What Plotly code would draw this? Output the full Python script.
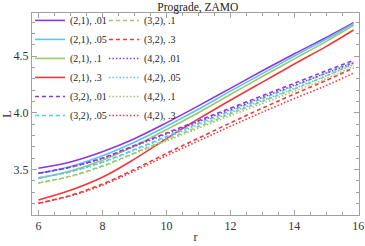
import plotly.graph_objects as go

r = [6, 7, 8, 9, 10, 11, 12, 13, 14, 15, 15.85]

# (2,1) solid
L21_01 = [3.51, 3.565, 3.655, 3.77, 3.91, 4.06, 4.215, 4.37, 4.52, 4.665, 4.795]
L21_05 = [3.465, 3.525, 3.62, 3.74, 3.88, 4.03, 4.19, 4.345, 4.50, 4.65, 4.785]
L21_1 = [3.42, 3.485, 3.58, 3.705, 3.85, 4.00, 4.16, 4.32, 4.475, 4.63, 4.772]
L21_3 = [3.23, 3.315, 3.43, 3.59, 3.77, 3.945, 4.11, 4.27, 4.43, 4.585, 4.73]
# (3,2) dashed
L32_01 = [3.465, 3.52, 3.60, 3.71, 3.82, 3.93, 4.04, 4.15, 4.26, 4.37, 4.462]
L32_05 = [3.425, 3.48, 3.565, 3.675, 3.79, 3.905, 4.015, 4.125, 4.235, 4.35, 4.45]
L32_1 = [3.38, 3.44, 3.53, 3.645, 3.76, 3.875, 3.99, 4.10, 4.21, 4.325, 4.435]
L32_3 = [3.20, 3.27, 3.37, 3.50, 3.64, 3.775, 3.91, 4.04, 4.165, 4.285, 4.395]
# (4,2) dotted
L42_01 = [3.465, 3.518, 3.596, 3.704, 3.812, 3.92, 4.028, 4.135, 4.243, 4.35, 4.44]
L42_05 = [3.425, 3.477, 3.56, 3.668, 3.78, 3.892, 4.0, 4.107, 4.214, 4.326, 4.425]
L42_1 = [3.38, 3.437, 3.525, 3.638, 3.75, 3.862, 3.974, 4.082, 4.19, 4.302, 4.41]
L42_3 = [3.20, 3.265, 3.36, 3.485, 3.62, 3.75, 3.88, 4.005, 4.125, 4.24, 4.35]

names = ["(2,1), .01", "(2,1), .05", "(2,1), .1", "(2,1), .3",
         "(3,2), .01", "(3,2), .05", "(3,2), .1", "(3,2), .3",
         "(4,2), .01", "(4,2), .05", "(4,2), .1", "(4,2), .3"]
series = [L21_01, L21_05, L21_1, L21_3, L32_01, L32_05, L32_1, L32_3,
          L42_01, L42_05, L42_1, L42_3]

colors = ["#8c35e0", "#5bc4f2", "#9cc96b", "#f0383a"]
dashes = ["solid", "4px,3px", "1.5px,2px"]

fig = go.Figure()
for i, (nm, ys) in enumerate(zip(names, series)):
    grp = i // 4
    fig.add_trace(go.Scatter(
        x=r, y=ys, mode="lines", name=nm,
        line=dict(color=colors[i % 4], width=1.6, dash=dashes[grp], shape="spline", smoothing=1.0),
        legend="legend" if i < 6 else "legend2",
    ))

serif = "Times New Roman, Liberation Serif, DejaVu Serif, serif"
axis_common = dict(
    showline=True, linecolor="#a0a0a0", linewidth=1, mirror="allticks",
    ticks="inside", ticklen=5, tickcolor="#a0a0a0", tickwidth=1,
    showgrid=False, zeroline=False, automargin=False,
    tickfont=dict(family=serif, size=12, color="#333"),
)
legend_common = dict(yanchor="top", bgcolor="rgba(0,0,0,0)",
                     font=dict(family=serif, size=10, color="#222"), tracegroupgap=0,
                     itemwidth=30, traceorder="normal", maxheight=230)
fig.update_layout(
    width=365, height=246,
    margin=dict(l=32, r=6, t=13, b=31),
    paper_bgcolor="white", plot_bgcolor="white",
    title=dict(text="Prograde, ZAMO", x=0.542, xanchor="center", y=0.988, yanchor="top",
               font=dict(family=serif, size=11.5, color="#222")),
    xaxis=dict(range=[5.8, 16.02], tickvals=[6, 8, 10, 12, 14, 16],
               minor=dict(ticks="inside", ticklen=3, tickcolor="#a0a0a0", dtick=0.5),
               title=dict(text="r", font=dict(family=serif, size=12, color="#333"), standoff=0),
               **axis_common),
    yaxis=dict(range=[3.097, 4.88], tickvals=[3.5, 4.0, 4.5], ticktext=["3.5", "4.0", "4.5"],
               minor=dict(ticks="inside", ticklen=3, tickcolor="#a0a0a0", dtick=0.1),
               title=dict(text="L", font=dict(family=serif, size=12, color="#333"), standoff=2),
               **axis_common),
    showlegend=True,
    legend=dict(x=-0.006, y=1.035, xanchor="left", **legend_common),
    legend2=dict(x=0.22, y=1.035, xanchor="left", **legend_common),
)

fig.write_html("out.html", config={"displayModeBar": False},
               post_script="document.body.style.margin='0';document.body.style.overflow='hidden';")
